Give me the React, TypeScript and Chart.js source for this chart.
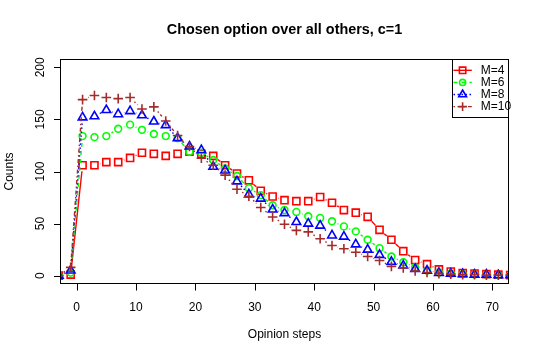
import React, { useEffect, useRef } from "react";
import { Chart, registerables } from "chart.js";

Chart.register(...registerables);

// ---------- data ----------
const steps = [-3, -1, 1, 3, 5, 7, 9, 11, 13, 15, 17, 19, 21, 23, 25, 27, 29, 31, 33, 35, 37, 39, 41, 43, 45, 47, 49, 51, 53, 55, 57, 59, 61, 63, 65, 67, 69, 71, 73];
const countsM4 = [0, 1, 106, 106, 109, 109, 113, 118, 117, 115, 117, 119, 117, 115, 106, 98, 91.5, 81.5, 76, 72.5, 71.5, 71.5, 75.5, 70, 63, 60.5, 56.5, 44, 34.5, 23.5, 15, 11, 6, 4, 2.5, 2, 1.5, 1, 0.5];
const countsM6 = [0, 3, 134, 133, 134, 141, 145, 140, 136, 134, 132, 119, 118, 111, 103, 95.7, 84, 77.3, 67.6, 63, 61.2, 57, 55.4, 52.2, 47.3, 42.5, 34.5, 26.4, 18.4, 12.9, 8, 5, 3, 2, 1.5, 1, 1, 0.5, 0.5];
const countsM8 = [0, 5, 152, 153, 159, 155, 158, 154, 148, 144.5, 132, 124, 120.5, 104.5, 101, 90.5, 78, 74, 63.5, 60, 51.5, 50, 48, 38.6, 37.5, 30, 25, 20, 13.3, 9.7, 6.4, 4.8, 2.6, 2, 1.5, 1, 1, 0.5, 0.5];
const countsM10 = [0, 8, 169, 173, 171, 170, 171, 160, 162, 148.5, 134.5, 124, 112.7, 106, 96.5, 83, 76.3, 65.4, 56.3, 49.3, 43.5, 42, 35.4, 29, 25.8, 22.5, 18.4, 14.5, 8.9, 7.5, 4.5, 3, 2, 1.5, 1, 1, 0.5, 0.5, 0.5];
const seriesLabels = ["M=4", "M=6", "M=8", "M=10"];
const xTicks = [0, 10, 20, 30, 40, 50, 60, 70];
const yTicks = [0, 50, 100, 150, 200];
const titleText = "Chosen option over all others, c=1";
const xTitle = "Opinion steps";
const yTitle = "Counts";

// ---------- styles ----------
const seriesValues = [countsM4, countsM6, countsM8, countsM10];
const colors = ["#FF0000", "#00FF00", "#0000FF", "#A52A2A"];
const pointStyles = ["rect", "circle", "triangle", "cross"] as const;
const pointRadii = [5.0, 3.4, 5.0, 4.8];
const dashes = [[], [4, 4], [1.5, 2.5], [1.5, 2.5, 4, 2.5]];
const LINE_W = 1.4;
const POINT_W = 1.6;
const GAP = 6;
const FONT = "'Liberation Sans', Arial, Helvetica, sans-serif";

function drawSymbol(ctx: CanvasRenderingContext2D, style: string, x: number, y: number, r: number) {
  ctx.beginPath();
  if (style === "rect") {
    const s = r * Math.SQRT1_2;
    ctx.rect(x - s, y - s, 2 * s, 2 * s);
  } else if (style === "circle") {
    ctx.arc(x, y, r, 0, Math.PI * 2);
  } else if (style === "triangle") {
    ctx.moveTo(x, y - r);
    ctx.lineTo(x + r * Math.sin(Math.PI * 2 / 3), y - r * Math.cos(Math.PI * 2 / 3));
    ctx.lineTo(x + r * Math.sin(Math.PI * 4 / 3), y - r * Math.cos(Math.PI * 4 / 3));
    ctx.closePath();
  } else {
    ctx.moveTo(x - r, y);
    ctx.lineTo(x + r, y);
    ctx.moveTo(x, y - r);
    ctx.lineTo(x, y + r);
  }
  ctx.stroke();
}

const rPlotPlugin = {
  id: "rPlot",
  beforeDatasetDraw(chart: any, args: any) {
    const i = args.index;
    const meta = chart.getDatasetMeta(i);
    const ctx: CanvasRenderingContext2D = chart.ctx;
    const a = chart.chartArea;
    ctx.save();
    ctx.beginPath();
    ctx.rect(a.left, a.top, a.right - a.left, a.bottom - a.top);
    ctx.clip();
    ctx.strokeStyle = colors[i];
    ctx.lineWidth = LINE_W;
    ctx.setLineDash(dashes[i]);
    ctx.lineCap = "butt";
    const pts = meta.data;
    for (let k = 1; k < pts.length; k++) {
      const p0 = pts[k - 1];
      const p1 = pts[k];
      const dx = p1.x - p0.x;
      const dy = p1.y - p0.y;
      const d = Math.hypot(dx, dy);
      if (d <= 2 * GAP) continue;
      const f = GAP / d;
      ctx.beginPath();
      ctx.moveTo(p0.x + f * dx, p0.y + f * dy);
      ctx.lineTo(p1.x - f * dx, p1.y - f * dy);
      ctx.stroke();
    }
    ctx.restore();
  },
  afterDraw(chart: any) {
    const ctx: CanvasRenderingContext2D = chart.ctx;
    const a = chart.chartArea;
    const xs = chart.scales.x;
    const ys = chart.scales.y;
    ctx.save();
    ctx.strokeStyle = "#000";
    ctx.fillStyle = "#000";
    ctx.lineWidth = 1;
    ctx.setLineDash([]);
    // box
    ctx.strokeRect(a.left + 0.5, a.top + 0.5, a.right - a.left - 1, a.bottom - a.top - 1);
    // x ticks
    ctx.font = `12px ${FONT}`;
    ctx.textAlign = "center";
    ctx.textBaseline = "alphabetic";
    for (const v of xTicks) {
      const px = Math.round(xs.getPixelForValue(v)) + 0.5;
      ctx.beginPath();
      ctx.moveTo(px, a.bottom - 0.5);
      ctx.lineTo(px, a.bottom + 6.5);
      ctx.stroke();
      ctx.fillText(String(v), xs.getPixelForValue(v), 310.5);
    }
    // y ticks
    for (const v of yTicks) {
      const py = Math.round(ys.getPixelForValue(v)) + 0.5;
      ctx.beginPath();
      ctx.moveTo(a.left + 0.5, py);
      ctx.lineTo(a.left - 6, py);
      ctx.stroke();
      ctx.save();
      ctx.translate(43.6, ys.getPixelForValue(v));
      ctx.rotate(-Math.PI / 2);
      ctx.fillText(String(v), 0, 0);
      ctx.restore();
    }
    // axis titles
    const cx = (a.left + a.right) / 2;
    const cy = (a.top + a.bottom) / 2;
    ctx.fillText(xTitle, cx, 338);
    ctx.save();
    ctx.translate(12.8, cy);
    ctx.rotate(-Math.PI / 2);
    ctx.fillText(yTitle, 0, 0);
    ctx.restore();
    // main title
    ctx.font = `bold 14.4px ${FONT}`;
    ctx.fillText(titleText, cx, 34);
    // legend
    const lx0 = 452.5;
    const ly0 = a.top + 0.5;
    const lx1 = a.right - 0.5;
    const ly1 = 117.5;
    ctx.fillStyle = "#fff";
    ctx.fillRect(lx0, ly0, lx1 - lx0, ly1 - ly0);
    ctx.strokeStyle = "#000";
    ctx.strokeRect(lx0, ly0, lx1 - lx0, ly1 - ly0);
    ctx.font = `12px ${FONT}`;
    ctx.textAlign = "left";
    ctx.textBaseline = "middle";
    for (let i = 0; i < seriesLabels.length; i++) {
      const y = 70.3 + i * 12.1;
      ctx.strokeStyle = colors[i];
      ctx.lineWidth = LINE_W;
      ctx.setLineDash(dashes[i]);
      ctx.beginPath();
      ctx.moveTo(453.5, y);
      ctx.lineTo(471.8, y);
      ctx.stroke();
      ctx.setLineDash([]);
      ctx.lineWidth = POINT_W;
      drawSymbol(ctx, pointStyles[i], 462.6, y, pointRadii[i] * 0.9);
      ctx.fillStyle = "#000";
      ctx.fillText(seriesLabels[i], 480.7, y + 0.5);
    }
    ctx.restore();
  },
};

export default function App() {
  const canvasRef = useRef<HTMLCanvasElement | null>(null);

  useEffect(() => {
    document.body.style.margin = "0";
    const canvas = canvasRef.current;
    if (!canvas) return;
    const datasets = seriesValues.map((vals, i) => ({
      label: seriesLabels[i],
      data: steps.map((s, k) => ({ x: s, y: vals[k] })),
      showLine: false,
      borderColor: colors[i],
      backgroundColor: "rgba(0,0,0,0)",
      pointStyle: pointStyles[i],
      pointRadius: pointRadii[i],
      pointBorderWidth: POINT_W,
      pointBorderColor: colors[i],
      pointBackgroundColor: "rgba(0,0,0,0)",
      clip: 0,
      order: seriesValues.length - i,
    }));
    const chart = new Chart(canvas, {
      type: "line",
      data: { datasets },
      options: {
        responsive: false,
        maintainAspectRatio: false,
        animation: false,
        devicePixelRatio: 1,
        events: [],
        layout: { padding: { left: 60, right: 31, top: 59, bottom: 75 } },
        scales: {
          x: { type: "linear", min: -2.8, max: 72.8, display: false },
          y: { type: "linear", min: -8, max: 208, display: false },
        },
        plugins: {
          legend: { display: false },
          tooltip: { enabled: false },
          title: { display: false },
        },
      },
      plugins: [rPlotPlugin],
    } as any);
    return () => {
      chart.destroy();
    };
  }, []);

  return (
    <div style={{ position: "fixed", left: 0, top: 0, width: 540, height: 359, background: "#fff" }}>
      <canvas ref={canvasRef} width={540} height={359} style={{ display: "block", width: 540, height: 359 }} />
    </div>
  );
}
